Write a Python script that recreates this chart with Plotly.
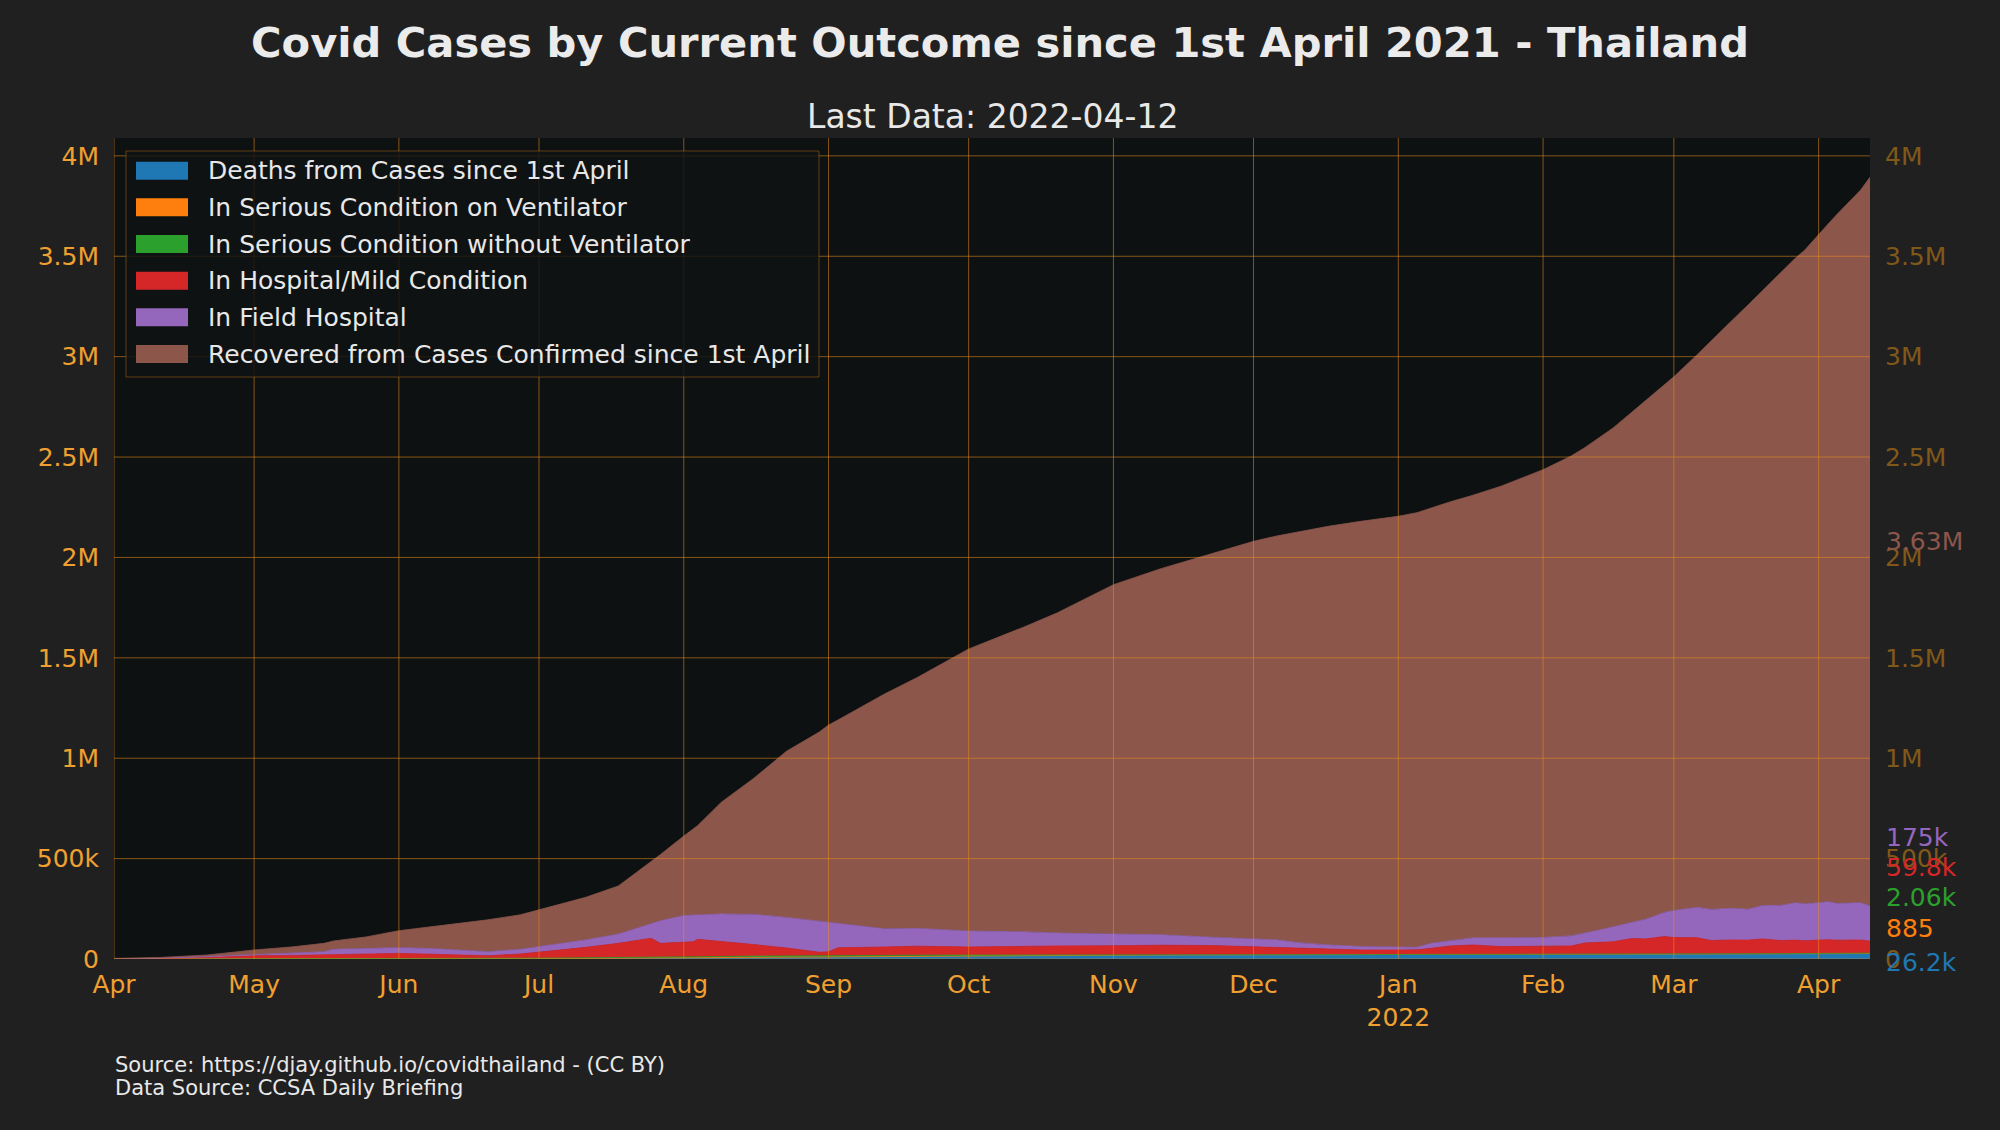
import plotly.graph_objects as go

# ---------------- data (in thousands) ----------------
dates = [
    "2021-04-01", "2021-04-11", "2021-04-21", "2021-05-01", "2021-05-09", "2021-05-16",
    "2021-05-18", "2021-05-25", "2021-06-01", "2021-06-08", "2021-06-15", "2021-06-20",
    "2021-06-27", "2021-07-04", "2021-07-11", "2021-07-18", "2021-07-25", "2021-07-27",
    "2021-08-01", "2021-08-03", "2021-08-04", "2021-08-09", "2021-08-16", "2021-08-23",
    "2021-08-30", "2021-09-01", "2021-09-03", "2021-09-13", "2021-09-20", "2021-10-01",
    "2021-10-13", "2021-10-20", "2021-11-01", "2021-11-11", "2021-11-22", "2021-12-01",
    "2021-12-06", "2021-12-11", "2021-12-17", "2021-12-24", "2022-01-01", "2022-01-05",
    "2022-01-08", "2022-01-12", "2022-01-17", "2022-01-23", "2022-02-01", "2022-02-07",
    "2022-02-10", "2022-02-13", "2022-02-16", "2022-02-20", "2022-02-23", "2022-02-27",
    "2022-03-01", "2022-03-06", "2022-03-09", "2022-03-13", "2022-03-17", "2022-03-20",
    "2022-03-24", "2022-03-27", "2022-03-29", "2022-04-01", "2022-04-03", "2022-04-05",
    "2022-04-10", "2022-04-12",
]

deaths_k = [0, 0.01, 0.04, 0.07, 0.2, 0.4, 0.45, 0.7, 0.94, 1.2, 1.45, 1.6, 1.85, 2.2, 2.7,
            3.5, 4.4, 4.7, 5.4, 5.8, 6.0, 7.0, 8.8, 10.5, 12.0, 12.3, 12.6, 14.2, 15.1, 16.3,
            17.6, 18.1, 18.8, 19.5, 20.0, 20.3, 20.5, 20.8, 21.1, 21.4, 21.6, 21.7, 21.7, 21.8,
            21.9, 21.95, 22.0, 22.1, 22.15, 22.2, 22.3, 22.4, 22.5, 22.6, 22.6, 23.0, 23.2,
            23.5, 23.8, 24.1, 24.4, 24.6, 24.75, 24.9, 25.2, 25.4, 25.9, 26.2]

ventilator_k = [0, 0.01, 0.1, 0.27, 0.35, 0.40, 0.41, 0.42, 0.42, 0.44, 0.48, 0.53, 0.6, 0.65,
                0.78, 0.9, 0.98, 1.0, 1.05, 1.08, 1.09, 1.13, 1.16, 1.12, 1.07, 1.05, 1.03,
                0.95, 0.88, 0.8, 0.75, 0.7, 0.6, 0.52, 0.43, 0.35, 0.33, 0.3, 0.27, 0.23, 0.2,
                0.14, 0.11, 0.11, 0.11, 0.12, 0.14, 0.16, 0.18, 0.2, 0.22, 0.26, 0.29, 0.33,
                0.36, 0.43, 0.48, 0.55, 0.61, 0.65, 0.69, 0.72, 0.74, 0.76, 0.79, 0.82, 0.87,
                0.885]

serious_k = [0.01, 0.05, 0.2, 0.55, 0.7, 0.8, 0.8, 0.8, 0.8, 0.85, 1.0, 1.2, 1.5, 1.8, 2.1,
             2.5, 3.0, 3.2, 3.5, 3.7, 3.8, 4.2, 4.45, 4.3, 3.75, 3.65, 3.55, 3.1, 2.85, 2.4,
             2.1, 1.9, 1.4, 1.25, 1.1, 0.95, 0.85, 0.75, 0.6, 0.5, 0.4, 0.39, 0.39, 0.4, 0.4,
             0.4, 0.41, 0.45, 0.5, 0.55, 0.6, 0.68, 0.75, 0.82, 0.86, 1.0, 1.1, 1.25, 1.4,
             1.5, 1.62, 1.72, 1.78, 1.85, 1.9, 1.95, 2.03, 2.06]

hospital_k = [0.5, 1.9, 7.7, 15.1, 16.8, 18.4, 20.3, 23.1, 25.8, 21.5, 15.1, 12.7, 21.1, 36.4,
              52.4, 71.1, 94.6, 69.1, 76.1, 75.4, 87.1, 75.7, 57.6, 39.1, 17.2, 19.0, 38.8,
              41.8, 45.2, 40.5, 44.6, 44.3, 45.2, 47.7, 45.5, 39.4, 35.3, 31.2, 26.0, 22.9,
              22.8, 23.8, 30.8, 42.7, 47.6, 39.5, 41.5, 42.3, 57.2, 61.1, 62.9, 78.7, 76.5,
              88.3, 83.2, 81.6, 67.2, 69.7, 68.2, 73.8, 65.3, 67.0, 63.7, 66.5, 68.1, 65.8,
              66.2, 59.8]

field_k = [0.5, 2, 4, 7, 12, 16, 26, 27, 28, 28, 24, 20, 23, 29, 37, 46, 75, 112, 130, 132,
           122, 136, 150, 152, 154, 147, 122, 90, 88, 79, 70, 64, 58, 52, 41, 39, 38, 27, 22,
           17, 13, 12, 25, 26, 35, 43, 43, 50, 48, 60, 74, 79, 98, 120, 134, 151, 155, 157,
           154, 166, 175, 186, 183, 186, 189, 182, 185, 175]

recovered_k = [2, 4, 8, 22, 30, 42, 42, 58, 85, 108, 138, 159, 172, 194, 212, 240, 307, 330,
               396, 432, 445, 556, 678, 828, 942, 982, 1012, 1170, 1250, 1405, 1520, 1595,
               1740, 1822, 1910, 1980, 2012, 2050, 2085, 2118, 2147, 2165, 2168, 2185, 2205,
               2250, 2330, 2390, 2420, 2452, 2485, 2542, 2584, 2628, 2659, 2753, 2833, 2918,
               3012, 3064, 3153, 3210, 3256, 3330, 3375, 3434, 3550, 3630]

series_names = [
    "Deaths from Cases since 1st April",
    "In Serious Condition on Ventilator",
    "In Serious Condition without Ventilator",
    "In Hospital/Mild Condition",
    "In Field Hospital",
    "Recovered from Cases Confirmed since 1st April",
]
series_values_k = [deaths_k, ventilator_k, serious_k, hospital_k, field_k, recovered_k]

month_ticks = ["2021-04-01", "2021-05-01", "2021-06-01", "2021-07-01", "2021-08-01",
               "2021-09-01", "2021-10-01", "2021-11-01", "2021-12-01", "2022-01-01",
               "2022-02-01", "2022-03-01", "2022-04-01"]
month_labels = ["Apr", "May", "Jun", "Jul", "Aug", "Sep", "Oct", "Nov", "Dec",
                "Jan<br>2022", "Feb", "Mar", "Apr"]
y_ticks = [0, 500000, 1000000, 1500000, 2000000, 2500000, 3000000, 3500000, 4000000]
y_labels = ["0", "500k", "1M", "1.5M", "2M", "2.5M", "3M", "3.5M", "4M"]

# ---------------- styling / layout ----------------
colors = ["#1f77b4", "#ff7f0e", "#2ca02c", "#d62728", "#9467bd", "#8c564b"]
FONT = "DejaVu Sans"
TEXT_COLOR = "#e8e8e8"
TICK_COLOR = "#f0a030"
RIGHT_TICK_COLOR = "#80581a"
GRID_COLOR = "rgba(235,140,30,0.55)"
y_max = 4089000
end_label_y = [-15000, 154000, 304000, 458000, 603000, 2079000]  # label placement

W, H = 2000, 1130
L, R, T, B = 114, 130, 138, 171
PW, PH = W - L - R, H - T - B


def px(x):
    return (x - L) / PW


def py(y):
    return (H - B - y) / PH


def fmt(v):
    if v >= 1e6:
        return f"{v / 1e6:.3g}M"
    if v >= 1e3:
        return f"{v / 1e3:.3g}k"
    return f"{v:.3g}"


fig = go.Figure()
for name, vals, col in zip(series_names, series_values_k, colors):
    fig.add_trace(go.Scatter(
        x=dates, y=[v * 1000 for v in vals], name=name, mode="lines",
        stackgroup="one", line=dict(color=col, width=0.8), fillcolor=col,
        hoverinfo="skip", showlegend=False,
    ))
# invisible helper so the mirrored right axis is drawn
fig.add_trace(go.Scatter(x=[dates[0]], y=[y_ticks[0]], yaxis="y2", mode="markers",
                         marker=dict(opacity=0), hoverinfo="skip", showlegend=False))

shapes = []
for t in month_ticks:
    shapes.append(dict(type="line", xref="x", yref="paper", x0=t, x1=t, y0=0, y1=1,
                       line=dict(color=GRID_COLOR, width=1), layer="above"))
for yv in y_ticks:
    shapes.append(dict(type="line", xref="paper", yref="y", x0=0, x1=1, y0=yv, y1=yv,
                       line=dict(color=GRID_COLOR, width=1), layer="above"))

# legend box (drawn manually to get matplotlib-style rectangular swatches)
shapes.append(dict(type="rect", xref="paper", yref="paper",
                   x0=px(126), x1=px(819), y0=py(377), y1=py(151),
                   fillcolor="rgba(17,19,19,0.85)",
                   line=dict(color="rgba(150,95,25,0.6)", width=1), layer="above"))

annotations = []
row0, pitch = 170.7, 36.66
for i, (name, col) in enumerate(zip(series_names, colors)):
    c = row0 + pitch * i
    shapes.append(dict(type="rect", xref="paper", yref="paper",
                       x0=px(136), x1=px(188), y0=py(c + 9), y1=py(c - 9),
                       fillcolor=col, line=dict(width=0), layer="above"))
    annotations.append(dict(text=name, xref="paper", yref="paper", x=px(206), y=py(c),
                            xanchor="left", yanchor="middle", showarrow=False,
                            font=dict(family=FONT, size=25, color=TEXT_COLOR)))

for vals, col, ly in zip(series_values_k, colors, end_label_y):
    annotations.append(dict(
        text=fmt(vals[-1] * 1000), xref="paper", yref="paper", x=px(1884), y=ly / y_max,
        xanchor="left", yanchor="middle", showarrow=False,
        font=dict(family=FONT, size=25, color=col),
    ))
annotations.append(dict(
    text="Last Data: 2022-04-12", xref="paper", yref="paper", x=0.5, y=py(116.5),
    xanchor="center", yanchor="middle", showarrow=False,
    font=dict(family=FONT, size=33, color=TEXT_COLOR),
))
annotations.append(dict(
    text="Source: https://djay.github.io/covidthailand - (CC BY)", xref="paper", yref="paper",
    x=px(113), y=py(1065), xanchor="left", yanchor="middle", showarrow=False,
    font=dict(family=FONT, size=21, color=TEXT_COLOR),
))
annotations.append(dict(
    text="Data Source: CCSA Daily Briefing", xref="paper", yref="paper",
    x=px(113), y=py(1088), xanchor="left", yanchor="middle", showarrow=False,
    font=dict(family=FONT, size=21, color=TEXT_COLOR),
))

fig.update_layout(
    width=W, height=H,
    paper_bgcolor="#202020", plot_bgcolor="#0d1111",
    margin=dict(l=L, r=R, t=T, b=B, autoexpand=False),
    font=dict(family=FONT, color=TEXT_COLOR),
    title=dict(text="<b>Covid Cases by Current Outcome since 1st April 2021 - Thailand</b>",
               x=0.5, xref="container", xanchor="center",
               y=1 - 42 / H, yref="container", yanchor="middle",
               font=dict(family=FONT, size=41.6, color="#ebebeb")),
    xaxis=dict(type="date", range=[dates[0], dates[-1]], tickvals=month_ticks,
               ticktext=month_labels, showgrid=False, zeroline=False, showline=False,
               ticks="", ticklabelstandoff=8,
               tickfont=dict(family=FONT, size=25, color=TICK_COLOR), automargin=False),
    yaxis=dict(range=[0, y_max], tickvals=y_ticks, ticktext=y_labels, showgrid=False,
               zeroline=False, showline=False, ticks="", ticklabelstandoff=14,
               tickfont=dict(family=FONT, size=25, color=TICK_COLOR), automargin=False),
    yaxis2=dict(range=[0, y_max], tickvals=y_ticks, ticktext=y_labels, overlaying="y",
                side="right", showgrid=False, zeroline=False, showline=False, ticks="",
                ticklabelstandoff=14,
                tickfont=dict(family=FONT, size=25, color=RIGHT_TICK_COLOR), automargin=False),
    shapes=shapes,
    annotations=annotations,
    showlegend=False,
)

fig.write_html(
    "out.html",
    config={"displayModeBar": False},
    post_script="document.body.style.margin='0';document.body.style.overflow='hidden';"
                "document.body.style.background='#202020';",
)
